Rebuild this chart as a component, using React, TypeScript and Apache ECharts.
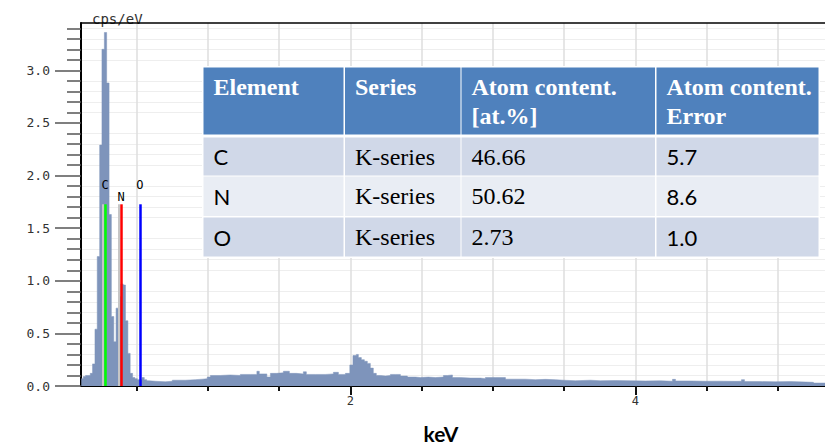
import React, { useEffect, useRef } from 'react';
import * as echarts from 'echarts';

// Spectrum: left edge of each channel group (keV) and its value (cps/eV)
const energyKeV = [
  0.112, 0.126, 0.142, 0.158, 0.175, 0.191, 0.208, 0.224, 0.241, 0.257,
  0.274, 0.290, 0.307, 0.323, 0.340, 0.356, 0.373, 0.389, 0.406, 0.422,
  0.439, 0.455, 0.472, 0.488, 0.505, 0.521, 0.538, 0.554, 0.571,
  0.587, 0.632, 0.702, 0.751, 0.842, 0.912, 0.961, 0.996, 1.018, 1.088,
  1.158, 1.228, 1.298, 1.344, 1.361, 1.414, 1.439, 1.481, 1.530, 1.572,
  1.621, 1.670, 1.691, 1.754, 1.825, 1.881, 1.916, 1.965, 1.996, 2.018,
  2.042, 2.056, 2.077, 2.098, 2.119, 2.140, 2.161, 2.182, 2.211, 2.246,
  2.281, 2.316, 2.351, 2.400, 2.456, 2.491, 2.547, 2.596, 2.653, 2.681,
  2.716, 2.772, 2.842, 2.912, 2.947, 3.018, 3.088, 3.158, 3.228, 3.298,
  3.368, 3.439, 3.495, 3.579, 3.684, 3.754, 3.860, 3.965, 4.070, 4.175,
  4.260, 4.281, 4.386, 4.491, 4.596, 4.702, 4.744, 4.765, 4.877, 4.982,
  5.088, 5.193, 5.249, 5.333,
];
const cpsPerEv = [
  0.07, 0.09, 0.10, 0.10, 0.12, 0.21, 0.54, 1.23, 2.29, 3.20,
  3.36, 2.88, 1.63, 0.66, 0.42, 0.74, 0.85, 0.97, 0.96, 0.62,
  0.31, 0.12, 0.08, 0.07, 0.06, 0.06, 0.08, 0.06, 0.05,
  0.045, 0.04, 0.045, 0.055, 0.06, 0.065, 0.07, 0.085, 0.10, 0.105,
  0.10, 0.11, 0.11, 0.14, 0.115, 0.085, 0.12, 0.125, 0.14, 0.12,
  0.115, 0.135, 0.11, 0.11, 0.115, 0.13, 0.11, 0.12, 0.20, 0.29,
  0.30, 0.27, 0.25, 0.235, 0.215, 0.17, 0.12, 0.10, 0.095, 0.10,
  0.11, 0.11, 0.095, 0.085, 0.08, 0.085, 0.08, 0.085, 0.10, 0.105,
  0.08, 0.075, 0.075, 0.07, 0.08, 0.08, 0.065, 0.065, 0.06, 0.063,
  0.06, 0.055, 0.05, 0.055, 0.05, 0.052, 0.05, 0.048, 0.05, 0.045,
  0.063, 0.048, 0.045, 0.046, 0.044, 0.045, 0.06, 0.042, 0.04, 0.042,
  0.038, 0.035, 0.028, 0.025,
];

// Axes
const xMin = 0.11;
const xMax = 5.33;
const xTickValues = [0.5, 1, 1.5, 2, 2.5, 3, 3.5, 4, 4.5, 5];
const xLabelValues = [2, 4];
const yMax = 3.45;
const yMajorTicks = [0, 0.5, 1, 1.5, 2, 2.5, 3];
const yMinorTicks = [
  0.1, 0.2, 0.3, 0.4, 0.6, 0.7, 0.8, 0.9, 1.1, 1.2, 1.3, 1.4, 1.6, 1.7,
  1.8, 1.9, 2.1, 2.2, 2.3, 2.4, 2.6, 2.7, 2.8, 2.9, 3.1, 3.2, 3.3, 3.4,
];

// Element markers
const elementSymbols = ['C', 'N', 'O'];
const elementLineKeV = [0.279, 0.392, 0.523];
const elementShadowKeV = [0.26, 0.374];
const elementColors = ['#00ff00', '#ff0000', '#0000ff'];
const elementLabelGap = [13, 1, 13];
const markerHeight = 1.727;

// Table
const tableHeaders = ['Element', 'Series', 'Atom content.\n[at.%]', 'Atom content.\nError'];
const tableSeries = ['K-series', 'K-series', 'K-series'];
const atomContent = ['46.66', '50.62', '2.73'];
const atomError = ['5.7', '8.6', '1.0'];

function buildTable() {
  const colX = [[203.5, 343.5], [345, 460.5], [461.5, 655], [656.5, 818.5]];
  const rowY = [[67.5, 134.5], [137.5, 175.5], [176.5, 216], [217.5, 256.5]];
  const els: any[] = [];
  els.push({
    type: 'rect', z: 100,
    shape: { x: 202, y: 66, width: 618, height: 192 },
    style: { fill: '#ffffff' },
  });
  rowY.forEach((r, ri) => {
    colX.forEach((c) => {
      els.push({
        type: 'rect', z: 101,
        shape: { x: c[0], y: r[0], width: c[1] - c[0], height: r[1] - r[0] },
        style: { fill: ri === 0 ? '#4f81bd' : ri % 2 === 1 ? '#d0d8e8' : '#e9edf4' },
      });
    });
  });
  tableHeaders.forEach((h, ci) => {
    els.push({
      type: 'text', z: 102, x: colX[ci][0] + 10, y: 72.5,
      style: {
        text: h, fill: '#ffffff', fontFamily: '"Liberation Serif", serif',
        fontWeight: 'bold', fontSize: 24, lineHeight: 29, verticalAlign: 'top', align: 'left',
      },
    });
  });
  const serif = '"Liberation Serif", serif';
  const sans = 'Lato, sans-serif';
  elementSymbols.forEach((el, i) => {
    const cy = (rowY[i + 1][0] + rowY[i + 1][1]) / 2;
    const cells = [
      { t: el, f: sans, s: 22 },
      { t: tableSeries[i], f: serif, s: 24 },
      { t: atomContent[i], f: serif, s: 24 },
      { t: atomError[i], f: sans, s: 22 },
    ];
    cells.forEach((cell, ci) => {
      els.push({
        type: 'text', z: 102, x: colX[ci][0] + 10, y: cy,
        style: {
          text: cell.t, fill: '#000000', fontFamily: cell.f, fontSize: cell.s,
          verticalAlign: 'middle', align: 'left',
        },
      });
    });
  });
  return els;
}

function buildMarkLines() {
  const data: any[] = [];
  elementShadowKeV.forEach((k) => {
    data.push([
      { coord: [k, 0], lineStyle: { color: '#c6c6c6', width: 2, type: 'solid' }, label: { show: false } },
      { coord: [k, markerHeight] },
    ]);
  });
  elementSymbols.forEach((el, i) => {
    data.push([
      {
        coord: [elementLineKeV[i], 0],
        lineStyle: { color: elementColors[i], width: 2.5, type: 'solid' },
        label: {
          show: true, position: 'end', formatter: el, distance: elementLabelGap[i],
          color: '#000', fontFamily: '"DejaVu Sans Mono", monospace', fontSize: 12,
        },
      },
      { coord: [elementLineKeV[i], markerHeight] },
    ]);
  });
  return data;
}

export default function App() {
  const ref = useRef<HTMLDivElement>(null);
  useEffect(() => {
    document.body.style.margin = '0';
    if (!ref.current) return;
    const chart = echarts.init(ref.current, undefined, { renderer: 'svg' });
    const labelFont = '"DejaVu Sans Mono", monospace';
    chart.setOption({
      animation: false,
      backgroundColor: '#ffffff',
      grid: { left: 81, right: 0, top: 23, bottom: 59, containLabel: false, outerBoundsMode: 'none' },
      xAxis: [
        {
          type: 'value', min: xMin, max: xMax, position: 'bottom',
          axisLine: { show: true, onZero: false, lineStyle: { color: '#000', width: 2 } },
          axisTick: { show: true, customValues: xTickValues, length: 5, lineStyle: { color: '#111', width: 2 } },
          axisLabel: { show: false },
          splitLine: { show: true, lineStyle: { color: '#dedede', width: 1.5 } },
        },
        {
          type: 'value', min: xMin, max: xMax, position: 'bottom',
          axisLine: { show: false, onZero: false },
          axisTick: { show: true, customValues: xLabelValues, length: 9, lineStyle: { color: '#111', width: 2 } },
          axisLabel: {
            show: true, customValues: xLabelValues, margin: 9,
            fontFamily: labelFont, fontSize: 12, color: '#333',
            formatter: (v: number) => String(v),
          },
          splitLine: { show: false },
          name: 'keV', nameLocation: 'middle', nameGap: 37,
          nameTextStyle: {
            fontFamily: 'Lato, sans-serif', fontWeight: 'bold', fontSize: 21, color: '#000',
            lineHeight: 20, padding: [0, 24, 0, 0],
          },
        },
        {
          type: 'value', min: xMin, max: xMax, position: 'top',
          axisLine: { show: true, onZero: false, lineStyle: { color: '#000', width: 1.5 } },
          axisTick: { show: false }, axisLabel: { show: false }, splitLine: { show: false },
        },
      ],
      yAxis: [
        {
          type: 'value', min: 0, max: yMax, interval: 0.1, position: 'left',
          axisLine: { show: true, onZero: false, lineStyle: { color: '#000', width: 2 } },
          axisTick: { show: true, customValues: yMinorTicks, length: 14, lineStyle: { color: '#555', width: 1.5 } },
          axisLabel: { show: false },
          splitLine: { show: true, lineStyle: { color: '#eeeeee', width: 1 } },
          name: 'cps/eV', nameLocation: 'end', nameGap: -3,
          nameTextStyle: {
            fontFamily: labelFont, fontSize: 14, color: '#333', align: 'left',
            padding: [0, 0, 0, 11],
          },
        },
        {
          type: 'value', min: 0, max: yMax, position: 'left',
          axisLine: { show: false, onZero: false },
          axisTick: { show: true, customValues: yMajorTicks, length: 26, lineStyle: { color: '#555', width: 1.5 } },
          axisLabel: {
            show: true, customValues: yMajorTicks, margin: 31,
            fontFamily: labelFont, fontSize: 13, color: '#333',
            formatter: (v: number) => v.toFixed(1),
          },
          splitLine: { show: false },
        },
      ],
      series: [
        {
          type: 'line',
          xAxisIndex: 0, yAxisIndex: 0,
          step: 'end',
          showSymbol: false,
          symbol: 'none',
          data: energyKeV.map((k, i) => [k, cpsPerEv[i]]),
          lineStyle: { color: '#7e94bb', width: 0.5 },
          areaStyle: { color: '#7e94bb', opacity: 1 },
          silent: true,
          markLine: {
            silent: true,
            symbol: ['none', 'none'],
            animation: false,
            data: buildMarkLines(),
          },
        },
      ],
      graphic: buildTable(),
    });
    return () => chart.dispose();
  }, []);
  return <div ref={ref} style={{ width: 825, height: 445 }} />;
}
